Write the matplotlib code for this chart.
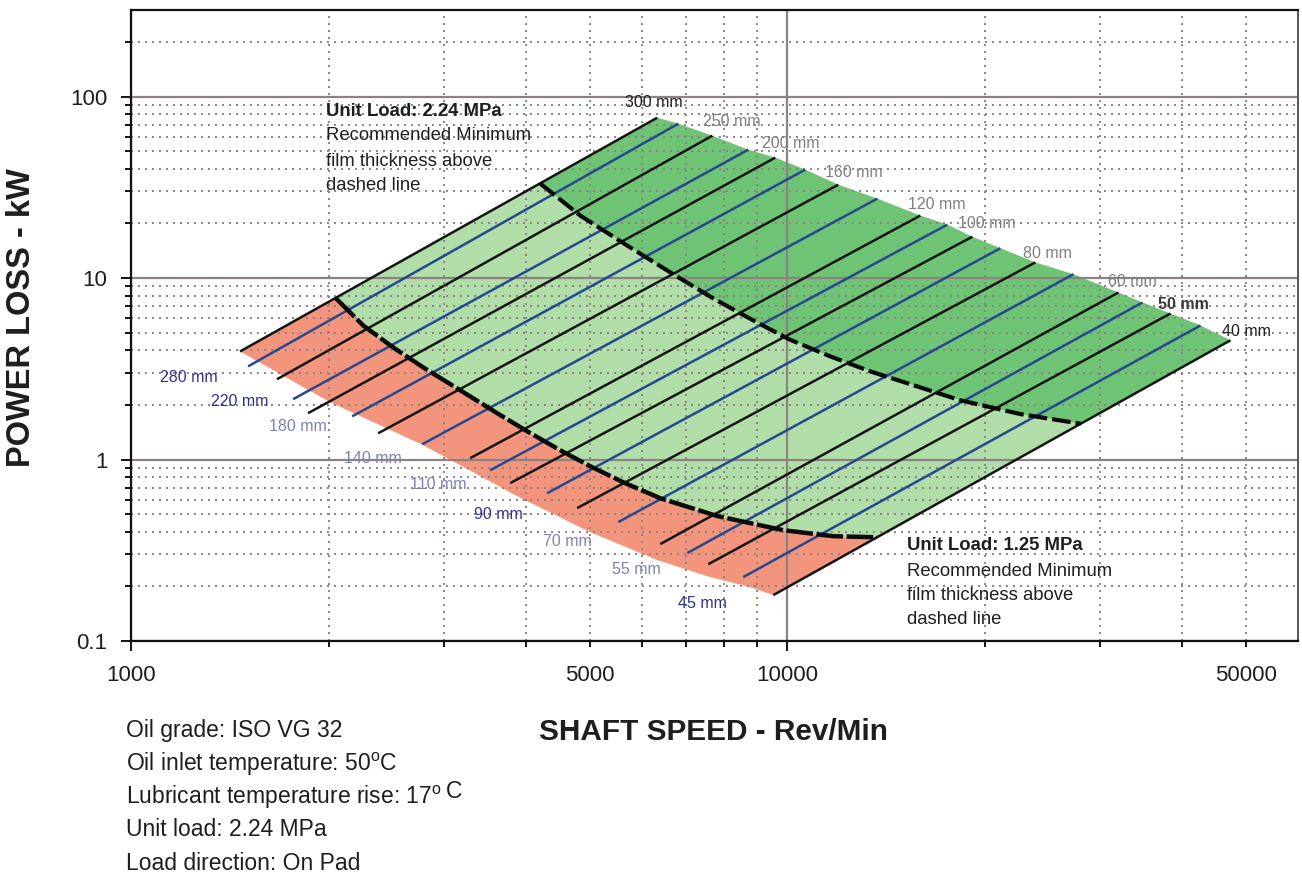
import matplotlib
matplotlib.use("Agg")
import matplotlib.pyplot as plt
from matplotlib.patches import Polygon

plt.rcParams['font.family'] = ['Liberation Sans', 'DejaVu Sans']
plt.rcParams['mathtext.fontset'] = 'custom'
plt.rcParams['mathtext.rm'] = 'Liberation Sans'

# ---------------------------------------------------------------------------
# Bearing power-loss lines (one straight log-log line per journal diameter)
# ---------------------------------------------------------------------------
diameters_mm = [300, 280, 250, 220, 200, 180, 160, 140, 120, 110,
                100, 90, 80, 70, 60, 55, 50, 45, 40]
speed_start = [1466, 1508, 1669, 1766, 1861, 2173, 2380, 2778, 3287, 3526,
               3782, 4306, 4785, 5526, 6404, 7040, 7579, 8568, 9520]
power_start = [3.94, 3.26, 2.77, 2.15, 1.80, 1.73, 1.395, 1.214, 1.017, 0.873,
               0.741, 0.652, 0.540, 0.452, 0.342, 0.305, 0.265, 0.225, 0.179]
speed_end = [6337, 6822, 7687, 8721, 9587, 10652, 11959, 13717, 15948, 17533,
             19143, 21120, 23880, 27290, 31960, 34770, 38360, 42620, 47340]
power_end = [76.5, 70.9, 60.9, 51.0, 46.1, 39.6, 32.7, 27.4, 22.1, 19.7,
             16.9, 14.6, 12.2, 10.5, 8.33, 7.34, 6.38, 5.48, 4.54]

# Lower-left edge of the operating band (300 mm start -> 40 mm start)
edge_speed = [1466, 2011, 2787, 3877, 5007, 6337, 7632, 8782, 9520]
edge_power = [3.94, 2.07, 1.20, 0.628, 0.398, 0.279, 0.225, 0.198, 0.179]

# Minimum film thickness boundary, unit load 1.25 MPa
low_load_speed = [2050, 2258, 2508, 2787, 3173, 3614, 4016, 4508, 5007,
                  5662, 6404, 7824, 9860, 11750, 13700]
low_load_power = [7.77, 5.48, 4.15, 3.22, 2.41, 1.80, 1.43, 1.125, 0.919,
                  0.741, 0.612, 0.488, 0.408, 0.378, 0.373]

# Minimum film thickness boundary, unit load 2.24 MPa
high_load_speed = [4200, 4836, 5703, 6703, 7714, 8876, 10070, 11630, 13380,
                   15400, 18350, 22660, 28000]
high_load_power = [33.25, 22.1, 15.1, 10.5, 7.72, 5.84, 4.59, 3.70, 3.06,
                   2.60, 2.12, 1.78, 1.575]

x_major = [1000, 10000]
x_minor = [2000, 3000, 4000, 5000, 6000, 7000, 8000, 9000,
           20000, 30000, 40000, 50000]
x_minor_labelled = [5000, 50000]
y_major = [0.1, 1, 10, 100]
y_major_labels = ['0.1', '1', '10', '100']
y_minor = [0.2, 0.3, 0.4, 0.5, 0.6, 0.7, 0.8, 0.9,
           2, 3, 4, 5, 6, 7, 8, 9,
           20, 30, 40, 50, 60, 70, 80, 90, 200]

notes = ["Oil grade: ISO VG 32",
         "Oil inlet temperature: 50$^{\\rm o}$C",
         "Lubricant temperature rise: 17$^{\\rm o}$",
         "Unit load: 2.24 MPa",
         "Load direction: On Pad"]

# ---------------------------------------------------------------------------
# Layout
# ---------------------------------------------------------------------------
W, H = 1302, 877
fig = plt.figure(figsize=(W / 100, H / 100), dpi=100)
fig.patch.set_facecolor('white')


def fx(x):
    return x / W


def fy(y):
    return 1 - y / H


ax = fig.add_axes([fx(131), fy(641), (1298 - 131) / W, (641 - 10) / H])
ax.set_xscale('log')
ax.set_yscale('log')
ax.set_xlim(1000, 60000)
ax.set_ylim(0.1, 300)

ax.set_xticks(x_major)
ax.set_xticklabels([str(v) for v in x_major])
ax.set_xticks(x_minor, minor=True)
ax.set_xticklabels([str(v) if v in x_minor_labelled else '' for v in x_minor],
                   minor=True)
ax.set_yticks(y_major)
ax.set_yticklabels(y_major_labels)
ax.set_yticks(y_minor, minor=True)
ax.set_yticklabels([], minor=True)

GRID = '#8c8282'
ax.grid(which='major', color=GRID, lw=1.6, ls='-')
ax.grid(which='minor', color=GRID, lw=1.4, ls=(0, (1, 2.6)))
for t in (ax.xaxis.get_major_ticks() + ax.xaxis.get_minor_ticks()
          + ax.yaxis.get_major_ticks() + ax.yaxis.get_minor_ticks()):
    t.gridline.set_zorder(0.5)

ax.tick_params(which='both', direction='out', color='black', width=1.3,
               labelsize=16, labelcolor='#1e1e1e')
ax.tick_params(axis='x', which='major', length=7, pad=10.5)
ax.tick_params(axis='x', which='minor', length=4.5, pad=13)
ax.tick_params(axis='y', which='major', length=7, pad=10)
ax.tick_params(axis='y', which='minor', length=4.5)

for side in ['left', 'bottom', 'top']:
    ax.spines[side].set_color('#111111')
    ax.spines[side].set_linewidth(1.6)
ax.spines['right'].set_color('#555555')
ax.spines['right'].set_linewidth(1.4)

# ---------------------------------------------------------------------------
# Coloured regions (slightly translucent so the grid shows faintly)
# ---------------------------------------------------------------------------
ORANGE = '#f2876a'
LIGHT_GREEN = '#a6d99c'
DARK_GREEN = '#5bbb61'

low_pts = list(zip(low_load_speed, low_load_power))
high_pts = list(zip(high_load_speed, high_load_power))
edge_pts = list(zip(edge_speed, edge_power))
top_pts = list(zip(speed_end, power_end))

orange_poly = edge_pts + low_pts[::-1]
light_poly = low_pts + high_pts[::-1]
dark_poly = high_pts + top_pts[::-1]

for verts, col in [(orange_poly, ORANGE), (light_poly, LIGHT_GREEN),
                   (dark_poly, DARK_GREEN)]:
    ax.add_patch(Polygon(verts, closed=True, facecolor=col, edgecolor='none',
                         alpha=0.88, zorder=1))

# ---------------------------------------------------------------------------
# Diameter lines, alternating black / blue
# ---------------------------------------------------------------------------
BLACK_LINE = '#151515'
BLUE_LINE = '#26488f'
for i in range(len(diameters_mm)):
    col = BLACK_LINE if i % 2 == 0 else BLUE_LINE
    ax.plot([speed_start[i], speed_end[i]], [power_start[i], power_end[i]],
            color=col, lw=1.8, solid_capstyle='butt', zorder=3)

# Boundaries of the recommended minimum film thickness
ax.plot(low_load_speed, low_load_power, color='#0a0a0a', lw=3.2,
        dashes=(6, 0.8), zorder=4)
ax.plot(high_load_speed, high_load_power, color='#0a0a0a', lw=3.0,
        dashes=(4.5, 1.2), zorder=4)

# ---------------------------------------------------------------------------
# Diameter labels
# ---------------------------------------------------------------------------
NAVY = '#2e3192'
FADED_NAVY = '#7c82b4'
FADED_GREY = '#7e7e7e'

# top labels sit at the upper end of the black lines
top_label_offsets = {300: (-32, 15), 250: (-9, 14), 200: (-13, 14),
                     160: (-13, 12), 120: (-12, 11), 100: (-14, 13),
                     80: (-12, 9), 60: (-10, 11), 50: (-12, 9), 40: (-8, 9)}
top_label_colors = {300: '#1e1e1e', 250: FADED_GREY, 200: FADED_GREY,
                    160: FADED_GREY, 120: FADED_GREY, 100: FADED_GREY,
                    80: FADED_GREY, 60: FADED_GREY, 50: '#3a3a3a',
                    40: '#1e1e1e'}
# bottom labels sit at the lower end of the blue lines
bottom_label_offsets = {280: (-30, -11), 220: (-25, -2), 180: (-25, -10),
                        140: (-20, -14), 110: (-24, -14), 90: (-24, -21),
                        70: (-26, -19), 55: (-27, -16), 45: (-16, -26)}
bottom_label_colors = {280: NAVY, 220: NAVY, 180: FADED_NAVY,
                       140: FADED_NAVY, 110: FADED_NAVY, 90: NAVY,
                       70: FADED_NAVY, 55: FADED_NAVY, 45: NAVY}

for i, d in enumerate(diameters_mm):
    if i % 2 == 0:
        dx, dy = top_label_offsets[d]
        ax.annotate(f"{d} mm", xy=(speed_end[i], power_end[i]),
                    xytext=(dx, dy), textcoords='offset pixels',
                    ha='left', va='center', fontsize=11.5,
                    fontweight='bold' if d == 50 else 'normal',
                    color=top_label_colors[d], zorder=5)
    else:
        dx, dy = bottom_label_offsets[d]
        ax.annotate(f"{d} mm", xy=(speed_start[i], power_start[i]),
                    xytext=(dx, dy), textcoords='offset pixels',
                    ha='right', va='center', fontsize=11.5,
                    color=bottom_label_colors[d], zorder=5)

# ---------------------------------------------------------------------------
# Load annotations
# ---------------------------------------------------------------------------
TXT = '#1e1e1e'


def load_note(x, ys, load):
    fig.text(fx(x), fy(ys[0]), f"Unit Load: {load} MPa", fontsize=13.3,
             fontweight='bold', color=TXT, ha='left', va='center')
    for y, s in zip(ys[1:], ["Recommended Minimum", "film thickness above",
                             "dashed line"]):
        fig.text(fx(x), fy(y), s, fontsize=13.3, color=TXT,
                 ha='left', va='center')


load_note(326, [111, 136, 161, 186], "2.24")
load_note(907, [546, 571, 596, 620], "1.25")

# ---------------------------------------------------------------------------
# Axis titles and operating conditions
# ---------------------------------------------------------------------------
fig.text(fx(22), fy(318), "POWER LOSS - kW", rotation=90, fontsize=23.5,
         fontweight='bold', color=TXT, ha='center', va='center')
fig.text(fx(713), fy(732), "SHAFT SPEED - Rev/Min", fontsize=21.4,
         fontweight='bold', color=TXT, ha='center', va='center')

note_texts = []
for k, line in enumerate(notes):
    note_texts.append(fig.text(fx(126), fy(731 + 33 * k), line,
                               fontsize=16.5, color=TXT,
                               ha='left', va='center'))
# the unit after the temperature rise sits slightly raised
ax.annotate("C", xy=(1, 0.5), xycoords=note_texts[2], xytext=(4, 5),
            textcoords='offset pixels', ha='left', va='center',
            fontsize=16.5, color=TXT, annotation_clip=False)

fig.savefig('out.png', dpi=100, facecolor='white')
